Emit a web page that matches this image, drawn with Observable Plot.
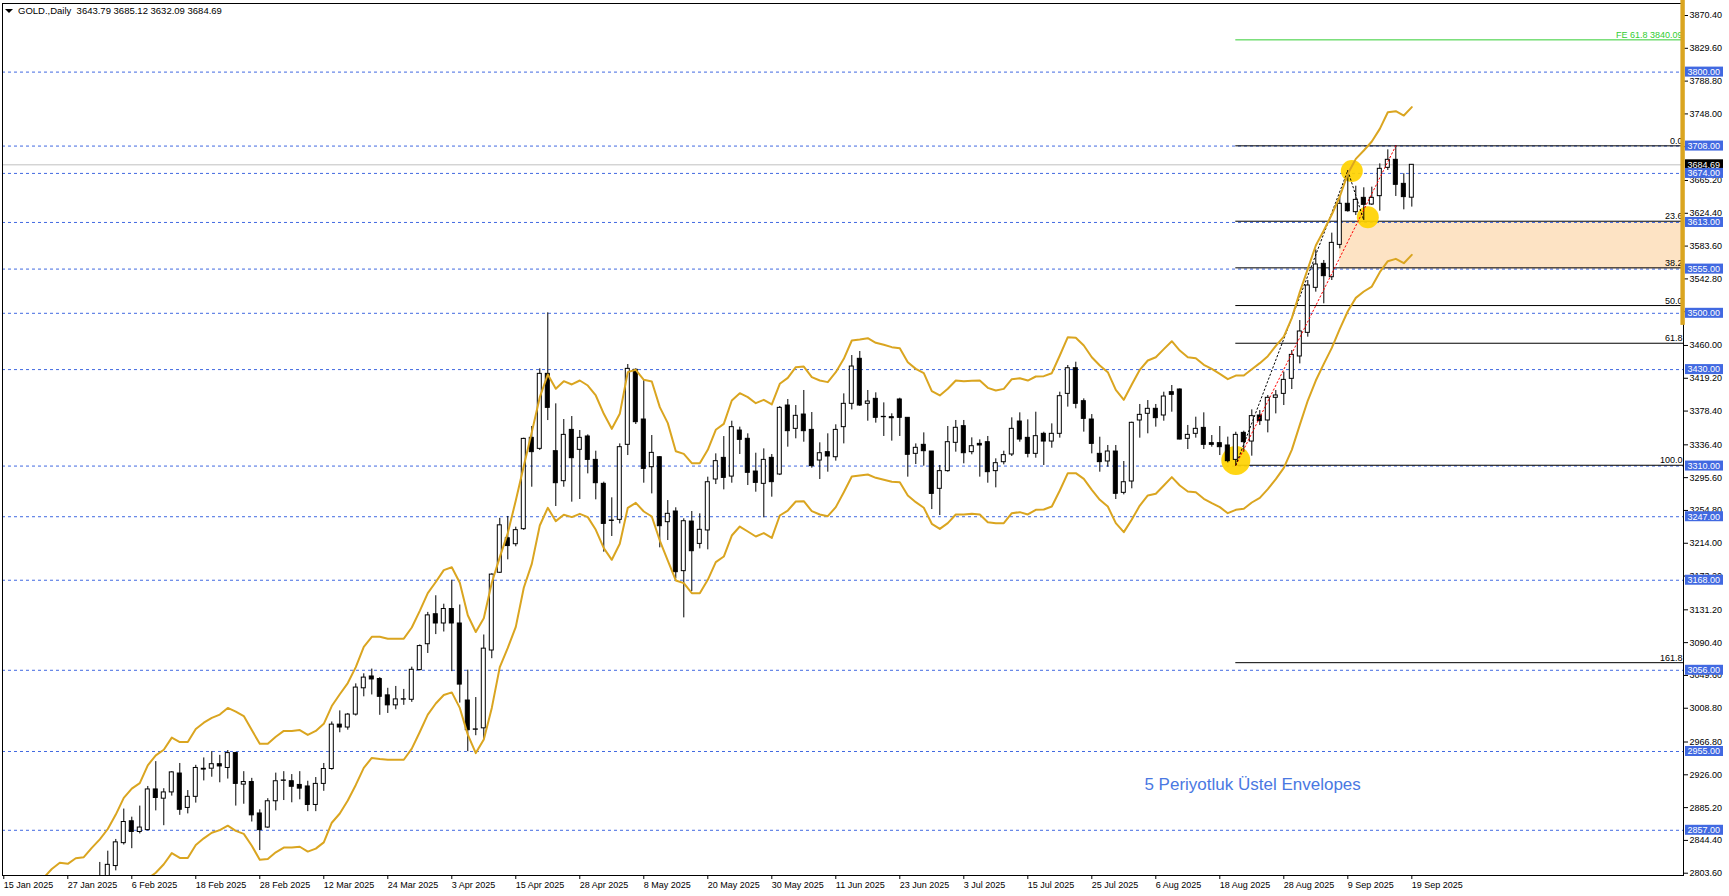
<!DOCTYPE html>
<html><head><meta charset="utf-8">
<script src="https://cdn.jsdelivr.net/npm/d3@7"></script>
<script src="https://cdn.jsdelivr.net/npm/@observablehq/plot@0.6"></script>
<style>
html,body{margin:0;padding:0;background:#fff;overflow:hidden;}
#chart{width:1729px;height:896px;}
</style></head><body><div id="chart"></div>
<script>
// ---- trading days (daily bars) ----
const dates = [
"2025-01-15","2025-01-16","2025-01-17","2025-01-20","2025-01-21","2025-01-22","2025-01-23","2025-01-24","2025-01-27","2025-01-28","2025-01-29","2025-01-30","2025-01-31",
"2025-02-03","2025-02-04","2025-02-05","2025-02-06","2025-02-07","2025-02-10","2025-02-11","2025-02-12","2025-02-13","2025-02-14","2025-02-17","2025-02-18","2025-02-19","2025-02-20","2025-02-21","2025-02-24","2025-02-25","2025-02-26","2025-02-27","2025-02-28",
"2025-03-03","2025-03-04","2025-03-05","2025-03-06","2025-03-07","2025-03-10","2025-03-11","2025-03-12","2025-03-13","2025-03-14","2025-03-17","2025-03-18","2025-03-19","2025-03-20","2025-03-21","2025-03-24","2025-03-25","2025-03-26","2025-03-27","2025-03-28","2025-03-31",
"2025-04-01","2025-04-02","2025-04-03","2025-04-04","2025-04-07","2025-04-08","2025-04-09","2025-04-10","2025-04-11","2025-04-14","2025-04-15","2025-04-16","2025-04-17","2025-04-21","2025-04-22","2025-04-23","2025-04-24","2025-04-25","2025-04-28","2025-04-29","2025-04-30",
"2025-05-01","2025-05-02","2025-05-05","2025-05-06","2025-05-07","2025-05-08","2025-05-09","2025-05-12","2025-05-13","2025-05-14","2025-05-15","2025-05-16","2025-05-19","2025-05-20","2025-05-21","2025-05-22","2025-05-23","2025-05-26","2025-05-27","2025-05-28","2025-05-29","2025-05-30",
"2025-06-02","2025-06-03","2025-06-04","2025-06-05","2025-06-06","2025-06-09","2025-06-10","2025-06-11","2025-06-12","2025-06-13","2025-06-16","2025-06-17","2025-06-18","2025-06-19","2025-06-20","2025-06-23","2025-06-24","2025-06-25","2025-06-26","2025-06-27","2025-06-30",
"2025-07-01","2025-07-02","2025-07-03","2025-07-04","2025-07-07","2025-07-08","2025-07-09","2025-07-10","2025-07-11","2025-07-14","2025-07-15","2025-07-16","2025-07-17","2025-07-18","2025-07-21","2025-07-22","2025-07-23","2025-07-24","2025-07-25","2025-07-28","2025-07-29","2025-07-30","2025-07-31",
"2025-08-01","2025-08-04","2025-08-05","2025-08-06","2025-08-07","2025-08-08","2025-08-11","2025-08-12","2025-08-13","2025-08-14","2025-08-15","2025-08-18","2025-08-19","2025-08-20","2025-08-21","2025-08-22","2025-08-25","2025-08-26","2025-08-27","2025-08-28","2025-08-29",
"2025-09-01","2025-09-02","2025-09-03","2025-09-04","2025-09-05","2025-09-08","2025-09-09","2025-09-10","2025-09-11","2025-09-12","2025-09-15","2025-09-16","2025-09-17","2025-09-18","2025-09-19"
];

// ---- candles (first visible candle: 2025-01-31) ----
const candleStart = "2025-01-31";
const open = [
2795,2800,2812.5,2841,2868.2,2854.9,2857.2,2907.8,2896.3,2904.1,
2927.6,2884.8,2898.6,2933.5,2933.6,2939.2,2934.5,2953.0,2913.8,2917.0,
2877.9,2860.4,2893.1,2918.5,2918.0,2913.4,2911.5,2888.5,2914.7,2933.2,
2988.4,2984.8,3000.9,3033.6,3048.3,3045.1,3024.8,3012.4,3019.5,3019.3,
3056.2,3088.4,3125.7,3114.2,3132.2,3114.2,3018.4,2982.0,2983.8,3080.6,
3177.3,3220.2,3212.8,3231.5,3345.1,3331.4,3424.7,3328.5,3291.2,3355.0,
3330.2,3346.8,3317.7,3287.9,3242.3,3243.1,3336.4,3429.7,3367.9,3308.6,
3321.0,3240.2,3253.5,3179.3,3241.0,3213.2,3229.9,3293.3,3320.2,3296.9,
3354.2,3343.9,3303.2,3287.9,3320.2,3299.5,3385.3,3356.3,3374.1,3355.0,
3316.9,3327.3,3321.0,3358.4,3387.4,3443.4,3387.4,3393.6,3371.2,3370.8,
3392.8,3370.0,3325.2,3336.4,3328.1,3281.7,3303.7,3338.9,3359.6,3327.3,
3337.6,3339.7,3303.7,3314.8,3324.4,3365.4,3345.1,3325.2,3350.1,3340.5,
3350.1,3399.8,3431.7,3390.7,3367.9,3325.2,3315.7,3328.1,3276.7,3290.8,
3366.7,3375.0,3381.2,3372.9,3401.9,3405.2,3343.9,3350.1,3357.5,3338.5,
3338.5,3335.6,3317.7,3351.3,3340.5,3372.9,3366.7,3394.9,3399.8,3418.5,
3446.3,3475.7,3531.7,3561.5,3544.9,3585.1,3636.2,3625.8,3643.6,3635.3,
3645.7,3680.9,3690.9,3661.0,3643.79];
const high = [
2817,2831,2845.6,2883.4,2873.3,2887.1,2911.5,2942.4,2908.7,2929.9,
2940.1,2906.4,2937.8,2947.0,2954.8,2950.2,2956.2,2953.9,2929.9,2921.6,
2882.5,2896.3,2928.1,2929.9,2926.3,2929.9,2918.0,2922.6,2940.1,2991.7,
3005.5,3002.3,3039.1,3051.6,3057.5,3046.9,3033.6,3035.9,3032.2,3059.9,
3087.5,3128.0,3148.7,3138.2,3168.1,3137.2,3056.2,3022.1,3099.9,3176.0,
3245.0,3247.3,3234.0,3344.7,3359.2,3430.9,3500.6,3387.4,3367.9,3371.6,
3354.2,3348.8,3328.5,3290.0,3270.5,3337.6,3436.3,3430.9,3416.4,3348.0,
3321.9,3267.1,3258.1,3244.4,3253.5,3250.6,3296.2,3325.2,3346.7,3365.8,
3358.4,3350.1,3326.0,3331.4,3324.4,3384.1,3392.8,3385.3,3404.0,3376.6,
3338.9,3350.1,3361.3,3399.8,3447.5,3452.5,3404.0,3401.1,3388.6,3375.0,
3394.4,3370.0,3337.6,3351.3,3328.1,3310.7,3359.2,3366.7,3366.7,3345.1,
3342.6,3346.8,3319.0,3328.5,3370.0,3376.2,3367.5,3377.0,3352.1,3362.5,
3401.9,3435.1,3439.2,3393.6,3374.1,3345.9,3335.6,3335.6,3315.7,3364.6,
3386.6,3391.5,3386.6,3401.9,3410.2,3406.0,3360.5,3370.8,3376.2,3348.0,
3359.2,3346.0,3352.1,3353.4,3379.9,3379.1,3397.8,3404.0,3426.8,3453.7,
3491.0,3540.8,3578.9,3565.7,3599.7,3646.5,3677.6,3658.1,3656.1,3656.9,
3685.9,3703.3,3708.3,3673.5,3685.12];
const low = [
2775,2772,2806.5,2838.7,2834.1,2852.5,2856.3,2881.1,2862.7,2899.5,
2875.6,2877.4,2890.8,2918.4,2923.0,2916.1,2920.7,2887.1,2889.4,2867.3,
2831.8,2859.5,2881.1,2894.0,2891.2,2894.9,2880.2,2880.2,2905.5,2931.8,
2978.3,2981.5,2999.1,3023.0,3025.3,3000.0,3002.3,3006.9,3012.4,3016.1,
3055.3,3076.9,3100.4,3103.6,3054.3,3015.2,2954.8,2974.6,2970.0,3070.4,
3176.4,3193.4,3209.6,3229.9,3283.7,3329.4,3366.6,3259.7,3283.7,3265.1,
3268.4,3300.3,3268.0,3202.9,3222.4,3238.1,3323.1,3361.7,3288.7,3275.4,
3208.3,3217.4,3169.7,3121.2,3154.0,3207.0,3205.8,3287.0,3280.4,3288.7,
3324.4,3285.8,3277.5,3245.6,3271.3,3298.2,3333.5,3343.9,3339.7,3307.4,
3293.3,3302.4,3316.1,3337.6,3379.9,3384.1,3365.8,3363.4,3346.8,3341.0,
3346.8,3296.2,3311.9,3309.9,3255.9,3248.5,3302.4,3327.3,3312.8,3324.0,
3296.2,3288.7,3282.9,3311.5,3321.9,3339.7,3320.2,3319.8,3310.7,3332.2,
3344.7,3383.3,3381.2,3352.2,3325.2,3302.4,3308.6,3268.4,3274.2,3281.7,
3344.7,3350.1,3358.4,3365.8,3377.0,3342.6,3330.6,3344.7,3330.6,3333.5,
3323.1,3314.0,3311.0,3327.3,3322.3,3360.5,3351.3,3374.9,3385.3,3405.2,
3437.1,3470.3,3526.3,3511.8,3540.8,3580.2,3625.8,3621.6,3615.4,3634.1,
3627.0,3677.6,3645.3,3628.7,3632.09];
const close = [
2800,2814,2842,2867.3,2854.9,2860.4,2907.8,2897.2,2904.1,2929.0,
2882.5,2898.6,2934.5,2932.5,2939.2,2936.4,2953.0,2914.7,2917.0,2875.6,
2857.2,2893.1,2918.0,2919.0,2911.1,2908.8,2888.5,2914.7,2933.2,2988.4,
2984.8,3000.9,3034.5,3046.9,3044.6,3023.0,3012.4,3019.8,3020.0,3056.6,
3086.1,3124.3,3114.2,3132.2,3114.2,3038.2,2981.5,2982.5,3082.9,3175.0,
3236.3,3210.5,3230.3,3343.8,3327.3,3424.7,3382.4,3288.7,3348.8,3319.8,
3345.1,3317.7,3288.7,3238.1,3241.8,3333.5,3430.9,3364.6,3306.5,3326.4,
3235.2,3250.6,3178.0,3241.4,3204.1,3230.7,3289.9,3316.1,3295.3,3358.4,
3342.6,3301.6,3289.1,3317.7,3290.0,3382.4,3353.4,3372.5,3353.4,3309.9,
3326.0,3321.9,3355.0,3387.4,3433.8,3385.3,3390.3,3370.0,3370.8,3369.5,
3370.0,3324.0,3332.7,3328.5,3275.4,3303.7,3339.7,3357.6,3326.0,3334.7,
3335.6,3302.4,3313.6,3323.6,3356.3,3343.0,3325.2,3347.2,3340.5,3350.1,
3396.9,3431.7,3387.4,3368.7,3337.6,3314.9,3328.1,3275.5,3289.9,3363.8,
3373.7,3381.2,3369.6,3396.5,3398.6,3343.0,3348.8,3356.3,3336.4,3336.4,
3333.5,3316.1,3348.8,3339.7,3372.1,3365.9,3394.9,3397.8,3417.2,3448.3,
3477.4,3534.6,3560.7,3546.2,3587.6,3636.2,3627.0,3641.1,3634.9,3643.6,
3679.7,3690.9,3659.8,3644.5,3684.69];

// ---- 5-period exponential envelopes ----
const upperStart = "2025-01-22";
const envUpper = [
2798,2808.8,2816.6,2815.3,2822.2,2823.5,2835.1,2845.7,2858.6,2876.5,
2897.3,2908.8,2915.7,2937.8,2950.2,2957.1,2972.3,2966.8,2966.8,2982.9,
2990.8,2996.8,3000.9,3009.2,3004.6,2999.1,2981.6,2964.5,2964.5,2973.3,
2980.6,2980.6,2981.6,2975.6,2980.6,2989.4,3011.5,3026.2,3040.1,3059.9,
3085.2,3097.6,3097.6,3095.3,3095.3,3095.3,3109.2,3129.9,3152.0,3165.8,
3180.6,3184.2,3164.9,3124.4,3103.6,3120.7,3164.9,3196.7,3226.6,3267.2,
3310,3352.2,3395.7,3423.9,3406.1,3415.6,3411.5,3416.4,3410.2,3397.8,
3375.0,3356.3,3375.0,3426.8,3429.7,3417.3,3415.2,3383.3,3363.4,3328.5,
3325.2,3313.6,3313.6,3330.2,3355.1,3362.5,3391.6,3400.7,3395.7,3388.2,
3392.4,3386.6,3412.3,3419.7,3433.0,3433.8,3420.6,3416.4,3414.4,3426.8,
3443.4,3466.2,3467.4,3469.1,3463.3,3460.8,3457.9,3456.6,3439.2,3430.9,
3425.6,3403.2,3397.8,3406.1,3416.4,3415.6,3416.0,3416.4,3407.3,3404.0,
3406,3418,3419.3,3416.4,3421.4,3421.8,3425.5,3447.5,3470.3,3469.5,
3460.0,3445.4,3435.1,3426.8,3404.8,3392.4,3411.4,3429.7,3441.3,3445.4,
3455.4,3465.3,3453.7,3445.4,3444.2,3435.9,3430.9,3424.7,3418.1,3422.6,
3422.6,3430.5,3438.0,3446.7,3459.5,3471.1,3494.0,3526.3,3555.3,3584.3,
3603.0,3622.9,3645.3,3673.5,3692.1,3702.5,3713.7,3729.4,3750.1,3751.4,
3746.0,3756.4];
const lowerStart = "2025-02-10";
const envLower = [
2797,2804.2,2814.8,2828.6,2822.6,2822.6,2838.8,2847.0,2854.0,2857.2,
2862.7,2856.3,2852.6,2837.8,2820.3,2821.3,2829.6,2835.5,2835.5,2836.5,
2830.5,2834.2,2842.0,2866.4,2877.9,2894.0,2913.4,2934.6,2947.0,2945.6,
2944.7,2944.7,2944.7,2958.5,2979.2,3000.9,3014.7,3025.3,3028.5,3009.2,
2976.0,2953.0,2970.0,3009.2,3059.9,3083.8,3110,3158.6,3188.4,3236.1,
3258.1,3241.5,3249.4,3246.5,3250.6,3246.5,3230.7,3207.9,3193.4,3213.3,
3258.1,3264.3,3253.5,3247.3,3217.4,3192.5,3167.7,3164.4,3151.9,3151.9,
3168.5,3190.5,3197.5,3223.6,3234.8,3228.6,3222.4,3226.6,3220.7,3248.5,
3254.7,3265.9,3266.3,3253.9,3249.8,3247.7,3258.9,3277.5,3297.0,3298.3,
3299.5,3295.4,3292.9,3290.4,3290.0,3273.4,3265.1,3258.1,3238.2,3231.9,
3239.0,3249.8,3249.8,3250.6,3249.8,3240.2,3239.0,3239.0,3251.4,3252.7,
3249.8,3255.6,3256.0,3259.7,3279.6,3301.2,3301.2,3294.1,3280.4,3268.0,
3259.7,3239.0,3227.8,3243.5,3260.9,3273.4,3275.5,3285.8,3296.2,3285.8,
3278.4,3277.5,3269.3,3263.9,3258.9,3251.4,3255.6,3256.8,3264.7,3270.5,
3281.3,3293.7,3307.8,3330.2,3361.3,3391.5,3416.4,3437.1,3457.0,3480.7,
3502.6,3519.2,3527.1,3533.3,3551.2,3564.8,3567.7,3562.3,3572.7];

// ---- horizontal support / resistance levels ----
const levels = [3800, 3708, 3674, 3613, 3555, 3500, 3430, 3310, 3247, 3168, 3056, 2955, 2857];
// ---- price-axis tick labels ----
const priceTicks = [3870.40,3829.60,3788.80,3748.00,3707.20,3665.20,3624.40,3583.60,3542.80,3502.00,3460.00,3419.20,3378.40,3336.40,3295.60,3254.80,3214.00,3173.20,3131.20,3090.40,3049.60,3008.80,2966.80,2926.00,2885.20,2844.40,2803.60];
// ---- Fibonacci retracement (anchors: 20 Aug low -> 17 Sep high) ----
const fibAnchors = ["2025-08-20", "2025-09-17"];
const fibRatios = [0, 23.6, 38.2, 50, 61.8, 100, 161.8];
// ---- Fibonacci expansion (A low, B high, C low) ----
const feAnchors = ["2025-08-20", "2025-09-09", "2025-09-11"];
const feLevel = 3840.09, feLabel = "FE 61.8 3840.09";
// ---- shaded zone ----
const zoneFrom = "2025-09-08", zoneLow = 3555, zoneHigh = 3613;
// ---- yellow highlight circles (bar position, price, radius px) ----
const highlights = [{at: 168.5, p: 3677, r: 11}, {at: 170.5, p: 3619.5, r: 11}, {at: 154, p: 3317, r: 14.5}];
const note = {at: 156.1, p: 2914, text: "5 Periyotluk Üstel Envelopes"};
const symbol = "GOLD.,Daily";
const sideBarLow = 3485;

// ---- build tables ----
const idx = d => dates.indexOf(d);
const c0 = idx(candleStart);
const bars = open.map((o, k) => ({i: k + c0, o, h: high[k], l: low[k], c: close[k]}));
const bar = i => bars[i - c0];
const up = envUpper.map((v, k) => ({i: k + idx(upperStart), v}));
const lo = envLower.map((v, k) => ({i: k + idx(lowerStart), v}));
const fA = idx(fibAnchors[0]), fB = idx(fibAnchors[1]);
const fibLow = bar(fA).l, fibHigh = bar(fB).h;
const fibs = fibRatios.map(r => ({r, p: fibHigh - r / 100 * (fibHigh - fibLow), label: r.toFixed(1)}));
const fibLine = [{i: fA, p: fibLow}, {i: fB, p: fibHigh}];
const [ea, eb, ec] = feAnchors.map(idx);
const feLine = [{i: ea, p: bar(ea).l}, {i: eb, p: bar(eb).h}, {i: ec, p: bar(ec).l}];
const last = bars[bars.length - 1];
const fmt = d3.utcFormat("%-d %b %Y");

const xDomain = [-0.16, 209.96];
const yDomain = [2800.76, 3885.33];
const FONT = "'Liberation Sans', Arial, sans-serif";
const BLUE = "#4169E1", GOLDLINE = "#DAA520";

const chart = Plot.plot({
  width: 1729, height: 896,
  marginLeft: 2, marginRight: 46, marginTop: 3, marginBottom: 21,
  x: {type: "linear", domain: xDomain},
  y: {type: "linear", domain: yDomain},
  r: {type: "identity"},
  style: {background: "white", fontFamily: FONT, fontSize: "9px", color: "black", overflow: "visible"},
  marks: [
    Plot.rect([0], {x1: idx(zoneFrom), x2: xDomain[1], y1: zoneLow, y2: zoneHigh, fill: "#FDE3C4"}),
    Plot.ruleY(levels, {stroke: BLUE, strokeDasharray: "3,3", strokeWidth: 1}),
    Plot.ruleY([last.c], {stroke: "#c0c0c0", strokeWidth: 1}),
    Plot.ruleY(fibs, {y: "p", x1: fA, x2: xDomain[1], stroke: "black", strokeWidth: 1}),
    Plot.ruleY([feLevel], {x1: fA, x2: xDomain[1], stroke: "#32CD32", strokeWidth: 1}),
    Plot.text(fibs, {y: "p", frameAnchor: "right", text: "label", textAnchor: "end", lineAnchor: "bottom", dx: -1, dy: -2, fontSize: 9, fill: "black"}),
    Plot.text([feLevel], {y: d => d, frameAnchor: "right", text: () => feLabel, textAnchor: "end", lineAnchor: "bottom", dx: -1, dy: -2, fontSize: 9, fill: "#32CD32"}),
    Plot.dot(highlights, {x: "at", y: "p", r: "r", fill: "#FFD200", fillOpacity: 0.92, stroke: "none"}),
    Plot.ruleX(bars, {x: "i", y1: "l", y2: "h", stroke: "black", strokeWidth: 1, clip: true}),
    Plot.rect(bars, {x1: d => d.i - 0.25, x2: d => d.i + 0.25, y1: "o", y2: "c", fill: d => d.c >= d.o ? "white" : "black", stroke: "black", strokeWidth: 1, clip: true}),
    Plot.line(fibLine, {x: "i", y: "p", stroke: "red", strokeDasharray: "1.5,2.5", strokeWidth: 1}),
    Plot.line(feLine, {x: "i", y: "p", stroke: "black", strokeDasharray: "1.5,2.5", strokeWidth: 1}),
    Plot.line(up, {x: "i", y: "v", stroke: GOLDLINE, strokeWidth: 2, clip: true}),
    Plot.line(lo, {x: "i", y: "v", stroke: GOLDLINE, strokeWidth: 2, clip: true}),
    Plot.text([note], {x: "at", y: "p", text: "text", fontSize: 17, fill: "#4A78E2", fontFamily: FONT}),
    Plot.frame({stroke: "black", strokeWidth: 1}),
    Plot.axisY(priceTicks, {anchor: "right", tickSize: 4, tickPadding: 2, tickFormat: d => d.toFixed(2), fontSize: 9, label: null}),
    Plot.axisX(d3.range(0, dates.length, 8), {anchor: "bottom", tickSize: 4, tickPadding: 2, tickFormat: i => fmt(new Date(dates[i])), textAnchor: "start", dx: 0, fontSize: 9, label: null})
  ]
});

document.getElementById("chart").appendChild(chart);

// ---- price-axis level labels, bid label, header (positions from Plot scales) ----
const svg = d3.select(chart);
const ys = chart.scale("y"), xs = chart.scale("x");
const axisX = xs.range[1];
const g = svg.append("g").attr("font-family", FONT).attr("font-size", 9).attr("text-anchor", "start");
function tag(v, text, fill) {
  const y = ys.apply(v);
  g.append("rect").attr("x", axisX + 2).attr("y", y - 5).attr("width", 38).attr("height", 10).attr("fill", fill);
  g.append("text").attr("x", axisX + 4.5).attr("y", y + 3.3).attr("fill", "white").attr("text-anchor", "start").text(text);
}
tag(last.c, last.c.toFixed(2), "black");
levels.forEach(v => tag(v, v.toFixed(2), BLUE));
// side bar on the price scale
g.append("rect").attr("x", axisX - 2.6).attr("y", 0).attr("width", 4.4).attr("height", ys.apply(sideBarLow)).attr("fill", GOLDLINE);
// header
const h = svg.append("g").attr("font-family", FONT).attr("font-size", 9.5).attr("fill", "black").attr("text-anchor", "start");
h.append("path").attr("d", "M5,9 L13,9 L9,13 Z").attr("fill", "black");
h.append("text").attr("x", 18).attr("y", 14).attr("text-anchor", "start").attr("xml:space", "preserve")
  .text(`${symbol}  ${last.o.toFixed(2)} ${last.h.toFixed(2)} ${last.l.toFixed(2)} ${last.c.toFixed(2)}`);
</script>
</body></html>
